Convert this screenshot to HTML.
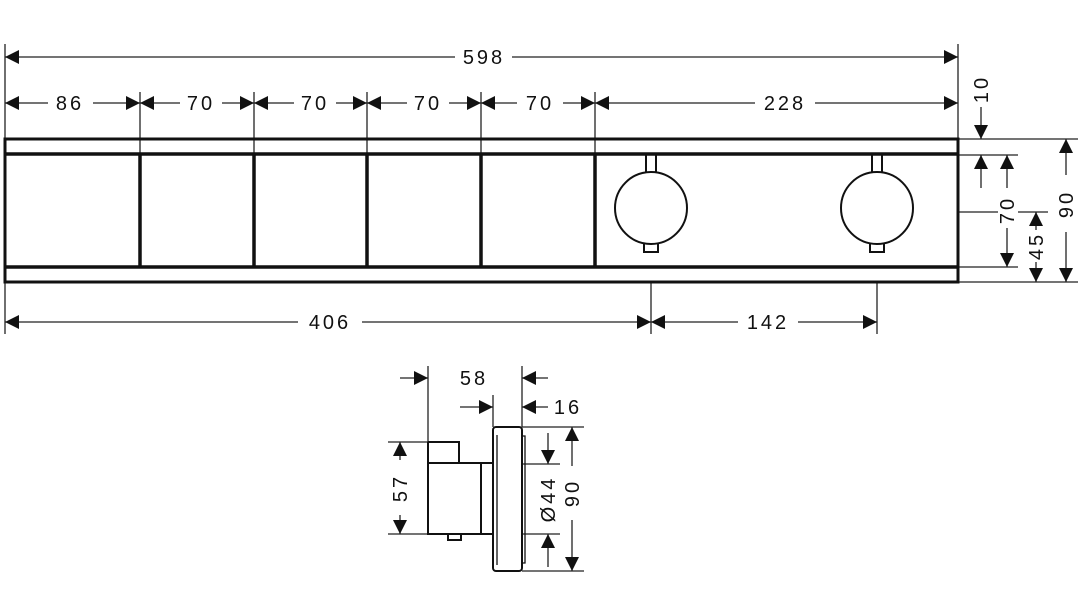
<!DOCTYPE html>
<html><head><meta charset="utf-8"><style>
html,body{margin:0;padding:0;background:#fff;}
svg{display:block;}
text{font-family:"Liberation Sans","DejaVu Sans",sans-serif;font-size:20px;fill:#111;letter-spacing:3px;}
</style></head><body>
<svg width="1080" height="605" viewBox="0 0 1080 605" xmlns="http://www.w3.org/2000/svg">
<defs>
<marker id="a" viewBox="0 0 10 10" refX="10" refY="5" markerWidth="16" markerHeight="14" markerUnits="userSpaceOnUse" orient="auto-start-reverse"><path d="M0,0 L10,5 L0,10 z" fill="#111"/></marker>
</defs>
<g stroke="#222" stroke-width="1.3" fill="none">
<line x1="5" y1="44" x2="5" y2="334"/>
<line x1="958" y1="44" x2="958" y2="139"/>
<line x1="140" y1="92" x2="140" y2="153"/>
<line x1="254" y1="92" x2="254" y2="153"/>
<line x1="367" y1="92" x2="367" y2="153"/>
<line x1="481" y1="92" x2="481" y2="153"/>
<line x1="595" y1="92" x2="595" y2="153"/>
<line x1="651" y1="282" x2="651" y2="334"/>
<line x1="877" y1="282" x2="877" y2="334"/>
<line x1="958" y1="139" x2="1078" y2="139"/>
<line x1="958" y1="155" x2="1018" y2="155"/>
<line x1="958" y1="212" x2="998" y2="212"/>
<line x1="1018" y1="212" x2="1048" y2="212"/>
<line x1="958" y1="267" x2="1018" y2="267"/>
<line x1="958" y1="282" x2="1078" y2="282"/>
<line x1="5" y1="57" x2="455" y2="57" marker-start="url(#a)"/>
<line x1="512" y1="57" x2="958" y2="57" marker-end="url(#a)"/>
<line x1="5" y1="103" x2="48" y2="103" marker-start="url(#a)"/><line x1="93" y1="103" x2="140" y2="103" marker-end="url(#a)"/>
<line x1="140" y1="103" x2="180" y2="103" marker-start="url(#a)"/><line x1="222" y1="103" x2="254" y2="103" marker-end="url(#a)"/>
<line x1="254" y1="103" x2="294" y2="103" marker-start="url(#a)"/><line x1="336" y1="103" x2="367" y2="103" marker-end="url(#a)"/>
<line x1="367" y1="103" x2="407" y2="103" marker-start="url(#a)"/><line x1="449" y1="103" x2="481" y2="103" marker-end="url(#a)"/>
<line x1="481" y1="103" x2="517" y2="103" marker-start="url(#a)"/><line x1="563" y1="103" x2="595" y2="103" marker-end="url(#a)"/>
<line x1="595" y1="103" x2="755" y2="103" marker-start="url(#a)"/><line x1="815" y1="103" x2="958" y2="103" marker-end="url(#a)"/>
<line x1="5" y1="322" x2="298" y2="322" marker-start="url(#a)"/><line x1="362" y1="322" x2="651" y2="322" marker-end="url(#a)"/>
<line x1="651" y1="322" x2="738" y2="322" marker-start="url(#a)"/><line x1="798" y1="322" x2="877" y2="322" marker-end="url(#a)"/>
<line x1="981" y1="107" x2="981" y2="139" marker-end="url(#a)"/>
<line x1="981" y1="188" x2="981" y2="155" marker-end="url(#a)"/>
<line x1="1007" y1="188" x2="1007" y2="155" marker-end="url(#a)"/>
<line x1="1007" y1="228" x2="1007" y2="267" marker-end="url(#a)"/>
<line x1="1036" y1="230" x2="1036" y2="212" marker-end="url(#a)"/>
<line x1="1036" y1="262" x2="1036" y2="282" marker-end="url(#a)"/>
<line x1="1066" y1="175" x2="1066" y2="139" marker-end="url(#a)"/>
<line x1="1066" y1="232" x2="1066" y2="282" marker-end="url(#a)"/>
</g>
<g stroke="#111" fill="none">
<rect x="5" y="139" width="953" height="143" stroke-width="3"/>
<line x1="5" y1="154" x2="958" y2="154" stroke-width="3.5"/>
<line x1="5" y1="267" x2="958" y2="267" stroke-width="3.5"/>
<g stroke-width="3.5">
<line x1="140" y1="154" x2="140" y2="267"/><line x1="254" y1="154" x2="254" y2="267"/>
<line x1="367" y1="154" x2="367" y2="267"/><line x1="481" y1="154" x2="481" y2="267"/>
<line x1="595" y1="154" x2="595" y2="267"/>
</g>
<g stroke-width="2">
<circle cx="651" cy="208" r="36"/><circle cx="877" cy="208" r="36"/>
<path d="M646,155 V173 M656,155 V173 M872,155 V173 M882,155 V173"/>
<path d="M644,243 V252 H658 V243 M870,243 V252 H884 V243"/>
</g>
</g>
<g stroke="#222" stroke-width="1.3" fill="none">
<line x1="428" y1="366" x2="428" y2="442"/>
<line x1="522" y1="366" x2="522" y2="427"/>
<line x1="493" y1="395" x2="493" y2="427"/>
<line x1="400" y1="378" x2="428" y2="378" marker-end="url(#a)"/>
<line x1="548" y1="378" x2="522" y2="378" marker-end="url(#a)"/>
<line x1="460" y1="407" x2="493" y2="407" marker-end="url(#a)"/>
<line x1="548" y1="407" x2="522" y2="407" marker-end="url(#a)"/>
<line x1="388" y1="442" x2="428" y2="442"/>
<line x1="388" y1="534" x2="428" y2="534"/>
<line x1="400" y1="460" x2="400" y2="442" marker-end="url(#a)"/>
<line x1="400" y1="515" x2="400" y2="534" marker-end="url(#a)"/>
<line x1="522" y1="427" x2="584" y2="427"/>
<line x1="522" y1="571" x2="584" y2="571"/>
<line x1="522" y1="464" x2="560" y2="464"/>
<line x1="522" y1="534" x2="560" y2="534"/>
<line x1="548" y1="433" x2="548" y2="464" marker-end="url(#a)"/>
<line x1="548" y1="567" x2="548" y2="534" marker-end="url(#a)"/>
<line x1="572" y1="466" x2="572" y2="427" marker-end="url(#a)"/>
<line x1="572" y1="520" x2="572" y2="571" marker-end="url(#a)"/>
</g>
<g stroke="#111" stroke-width="2" fill="none">
<path d="M428,442 H459 V463 M428,442 V534 H492"/>
<line x1="428" y1="463" x2="492" y2="463"/>
<line x1="481" y1="463" x2="481" y2="534"/>
<path d="M448,534 V540 H461 V534"/>
<rect x="493" y="427" width="29" height="144" rx="3"/>
<path d="M497,435 V565 M522,436 H525 V563 H522" stroke-width="1.3"/>
</g>
<g>
<text x="484" y="64" text-anchor="middle">598</text>
<text x="70" y="110" text-anchor="middle">86</text>
<text x="201" y="110" text-anchor="middle">70</text>
<text x="315" y="110" text-anchor="middle">70</text>
<text x="428" y="110" text-anchor="middle">70</text>
<text x="540" y="110" text-anchor="middle">70</text>
<text x="785" y="110" text-anchor="middle">228</text>
<text x="330" y="329" text-anchor="middle">406</text>
<text x="768" y="329" text-anchor="middle">142</text>
<text x="474" y="385" text-anchor="middle">58</text>
<text x="568" y="414" text-anchor="middle">16</text>
<text transform="translate(988,89) rotate(-90)" text-anchor="middle">10</text>
<text transform="translate(1014,210) rotate(-90)" text-anchor="middle">70</text>
<text transform="translate(1043,246) rotate(-90)" text-anchor="middle">45</text>
<text transform="translate(1073,204) rotate(-90)" text-anchor="middle">90</text>
<text transform="translate(407,488) rotate(-90)" text-anchor="middle">57</text>
<text transform="translate(555,499) rotate(-90)" text-anchor="middle">Ø44</text>
<text transform="translate(579,493) rotate(-90)" text-anchor="middle">90</text>
</g>
</svg>
</body></html>
